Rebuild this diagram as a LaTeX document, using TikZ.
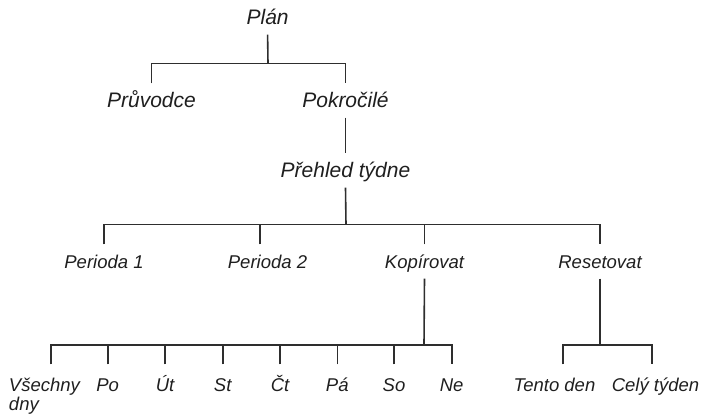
\documentclass[tikz,border=0pt]{standalone}
\usepackage{fontspec}
\setmainfont{Liberation Sans}
\usepackage{tikz}
\tikzset{
    LS/.style ={anchor=base, inner xsep=0pt, inner ysep=10.5pt, text height=13pt, text depth=0pt, text=black!88, font=\fontsize{18.5}{19.5}\selectfont\itshape},
    LB/.style ={LS, inner ysep=9.5pt, text height=15pt, font=\fontsize{21}{22}\selectfont\itshape},
    LF/.style ={LS, inner ysep=13.5pt},
    TR/.style ={line width=1.6pt, draw=black!82}
}

\begin{document}
\begin{tikzpicture}[x=1pt,y=-1pt]
        \useasboundingbox (0,0) rectangle (702,417);
        % labels
        \node[LB] (plan) at (267.6,25) {Plán};
        \node[LB] (pruv) at (151.5,108) {Průvodce};
        \node[LB] (pokr) at (345.5,108) {Pokročilé};
        \node[LB] (preh) at (345.5,178) {Přehled týdne};
        \node[LS] (per1) at (104,268) {Perioda 1};
        \node[LS] (per2) at (267.5,268) {Perioda 2};
        \node[LS] (kop) at (424.5,268) {Kopírovat};
        \node[LS] (reset) at (600,268) {Resetovat};
        \node[LF,text width=84pt,align=left] (d1) at (51,391) {Všechny\\dny};
        \foreach \n/\x/\t in {2/107.7/Po,3/165/Út,4/222.7/St,5/280/Čt,6/337.3/Pá,7/394/So,8/451.7/Ne}
            \node[LF] (d\n) at (\x,391) {\t};
        \node[LF] (tento) at (554.5,391) {Tento den};
        \node[LF] (cely) at (655.5,391) {Celý týden};
        % branches
        \coordinate (b1) at (268,63.5);
        \coordinate (b2) at (346,224.5);
        \coordinate (b3) at (424,345);
        \coordinate (b4) at (600,345);
        \draw[TR] (plan.south) -- (b1);
        \draw[TR] (pruv.north) |- (b1) -| (pokr.north);
        \draw[TR] (pokr.south) -- (preh.north);
        \draw[TR] (preh.south) -- (b2);
        \draw[TR] (per1.north) |- (b2) -| (reset.north);
        \draw[TR] ([xshift=-7.5pt]per2.north) -- ([xshift=-7.5pt]per2.north |- b2);
        \draw[TR] (kop.north) -- (kop.north |- b2);
        \draw[TR] (kop.south) -- (b3);
        \draw[TR] (d1.north) |- (b3) -| (d8.north);
        \foreach \n in {2,...,7}
            \draw[TR] (d\n.north) -- (d\n.north |- b3);
        \draw[TR] (reset.south) -- (b4);
        \draw[TR] ([xshift=8.2pt]tento.north) |- (b4) -| ([xshift=-3.8pt]cely.north);
    \end{tikzpicture}
\end{document}
